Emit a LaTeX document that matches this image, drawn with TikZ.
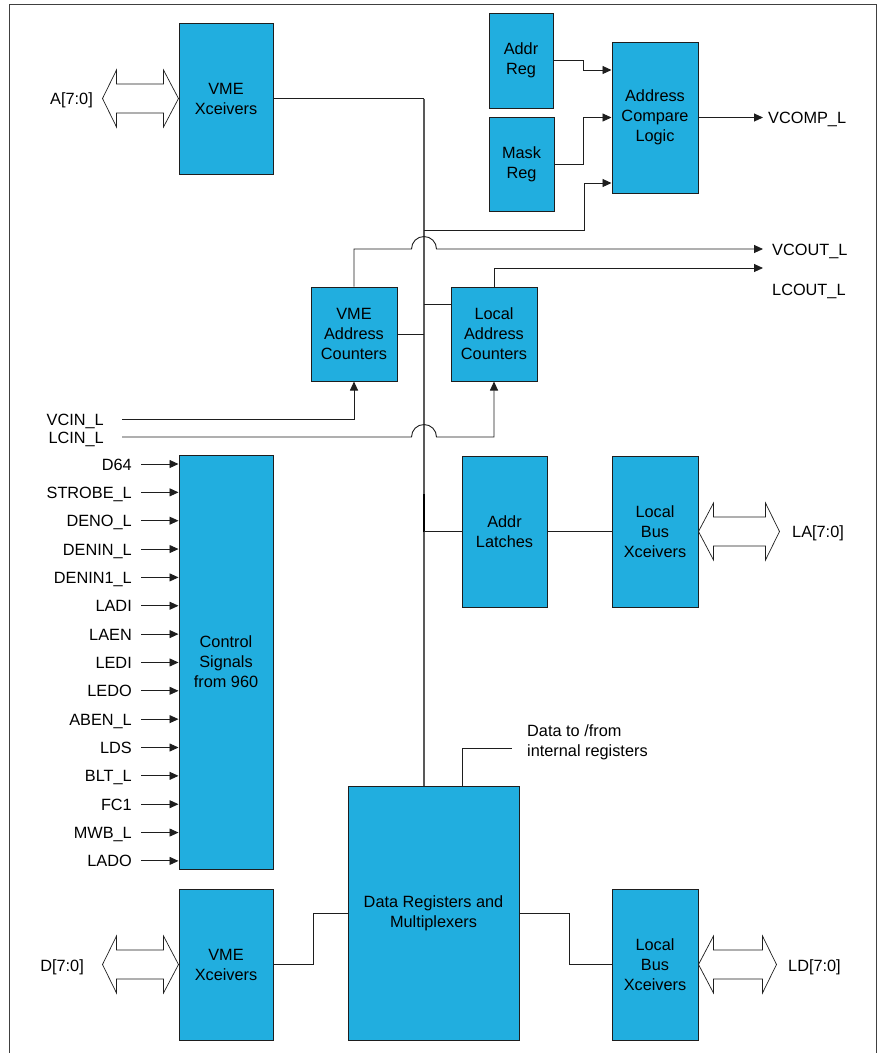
\documentclass[tikz,border=0pt]{standalone}
\usepackage{fontspec}
\setmainfont{Liberation Sans}
\usetikzlibrary{arrows.meta,calc}
\definecolor{blkfill}{HTML}{21AEDF}
\definecolor{ln}{HTML}{1E1E1E}
\newcommand{\busarrow}[3]{%
  \draw[busa,shift={(#1)},xscale=#2] (0,0) -- (-15,-28.5) -- (-15,-14.5) -- (-#3+14,-14.5) -- (-#3+14,-28.5) -- (-#3,0)
    -- (-#3+14,28.5) -- (-#3+14,14.5) -- (-15,14.5) -- (-15,28.5) -- cycle;}
\begin{document}
\begin{tikzpicture}[x=1pt,y=-1pt,
  txt/.style={font=\fontsize{16.3}{20}\selectfont},
  blk/.style={txt, draw=ln, fill=blkfill, line width=1pt, align=center, inner sep=0pt},
  lbl/.style={txt, inner sep=0pt, align=left},
  wire/.style={draw=ln, line width=0.9pt},
  arr/.style={wire, -{Triangle[length=9pt,width=8pt]}},
  busa/.style={draw=ln, line width=0.7pt, fill=white},
  busline/.style={draw=black!65, line width=1.1pt}]
\useasboundingbox (0,0) rectangle (880,1053);
\fill[white] (0,0) rectangle (880,1053);
\draw[black!75, line width=1pt] (9,1053) -- (9,4) -- (876,4) -- (876,1053);

% blocks
\node[blk, minimum width=94, minimum height=151] (vx1) at (226,98.5) {VME\\Xceivers};
\node[blk, minimum width=64, minimum height=95] (areg) at (521,60.5) {Addr\\Reg};
\node[blk, minimum width=65, minimum height=94] (mreg) at (521.5,164) {Mask\\Reg};
\node[blk, minimum width=86, minimum height=151] (acl) at (655,117.5) {Address\\Compare\\Logic};
\node[blk, minimum width=86, minimum height=94] (vac) at (354,334) {VME\\Address\\Counters};
\node[blk, minimum width=86, minimum height=94] (lac) at (494,334) {Local\\Address\\Counters};
\node[blk, minimum width=94, minimum height=414] (ctl) at (226,662) {Control\\Signals\\from 960};
\node[blk, minimum width=85, minimum height=151] (al) at (504.5,531.5) {Addr\\Latches};
\node[blk, minimum width=86, minimum height=151] (lbx1) at (655,531.5) {Local\\Bus\\Xceivers};
\node[blk, minimum width=171, minimum height=254] (drm) at (433.5,913) {Data Registers and\\Multiplexers};
\node[blk, minimum width=94, minimum height=151] (vx2) at (226,964.5) {VME\\Xceivers};
\node[blk, minimum width=86, minimum height=151] (lbx2) at (655,964.5) {Local\\Bus\\Xceivers};

% labels
\node[lbl, anchor=base east] (la) at (93,104) {A[7:0]};
\node[lbl, anchor=base east] (ld) at (84,971) {D[7:0]};
\node[lbl, anchor=base west] (lla) at (792,537.5) {LA[7:0]};
\node[lbl, anchor=base west] (lld) at (788,971) {LD[7:0]};
\node[lbl, anchor=base west] (vcomp) at (768,123.5) {VCOMP\_L};
\node[lbl, anchor=base west] (vcout) at (772,255) {VCOUT\_L};
\node[lbl, anchor=base west] (lcout) at (772,295) {LCOUT\_L};
\node[lbl, anchor=base east] (vcin) at (104,425) {VCIN\_L};
\node[lbl, anchor=base east] (lcin) at (104,443) {LCIN\_L};
\node[lbl, anchor=north west] (dtf) at (527,724) {Data to /from\\internal registers};

% bus arrows
\busarrow{vx1.west}{1}{76}
\busarrow{vx2.west}{1}{76}
\busarrow{lbx1.east}{-1}{81}
\busarrow{lbx2.east}{-1}{78}

% main vertical bus
\coordinate (bus) at (424,0);
\draw[wire] (vx1.east) -- (bus |- vx1.east);
\draw[busline] (bus |- vx1.east) -- (bus |- drm.north);

% address compare inputs
\draw[arr] (areg.east) -| (583,70) -- (acl.west |- 0,70);
\draw[arr] (mreg.east) -| (583,117.5) -- (acl.west);
\coordinate (j1) at (bus |- 0,230);
\draw[arr] (j1) -| (584,183) -- (acl.west |- 0,183);
\coordinate (vcompend) at (763,117.5);
\draw[arr] (acl.east) -- (vcompend);

% counters
\coordinate (vcoutend) at (763,249);
\coordinate (lcoutend) at (763,268);
\draw[arr] (vac.north) |- (411.5,249) arc[start angle=180, end angle=0, radius=12.5pt] -- (vcoutend);
\draw[arr] (lac.north) |- (lcoutend);
\draw[wire] (vac.east) -- (bus |- vac.east);
\draw[wire] (bus |- 0,304) -- (lac.west |- 0,304);
\draw[arr] (122,419) -| (vac.south);
\draw[arr] (122,437) -- (411.5,437) arc[start angle=180, end angle=0, radius=12.5pt] -| (lac.south);

% address latches
\draw[black, line width=1.8pt] (bus |- 0,494) -- (bus |- al.west);
\draw[wire] (bus |- al.west) -- (al.west);
\draw[wire] (al.east) -- (lbx1.west);

% data path
\draw[wire] (vx2.east) -- (313,964.5) |- (drm.west);
\draw[wire] (drm.west -| drm.east) -- (569,913) |- (lbx2.west);
\draw[wire] (drm.north -| 462,0) |- (512,748);

% control signals
\foreach \t [count=\i] in {D64,STROBE\_L,DENO\_L,DENIN\_L,DENIN1\_L,LADI,LAEN,LEDI,LEDO,ABEN\_L,LDS,BLT\_L,FC1,MWB\_L,LADO}{
  \pgfmathsetmacro{\yy}{464+(\i-1)*28.35}
  \node[lbl, anchor=base east] (c\i) at (132,\yy+6) {\t};
  \draw[arr] (141,\yy) -- (ctl.west |- 0,\yy);
}
\end{tikzpicture}
\end{document}
